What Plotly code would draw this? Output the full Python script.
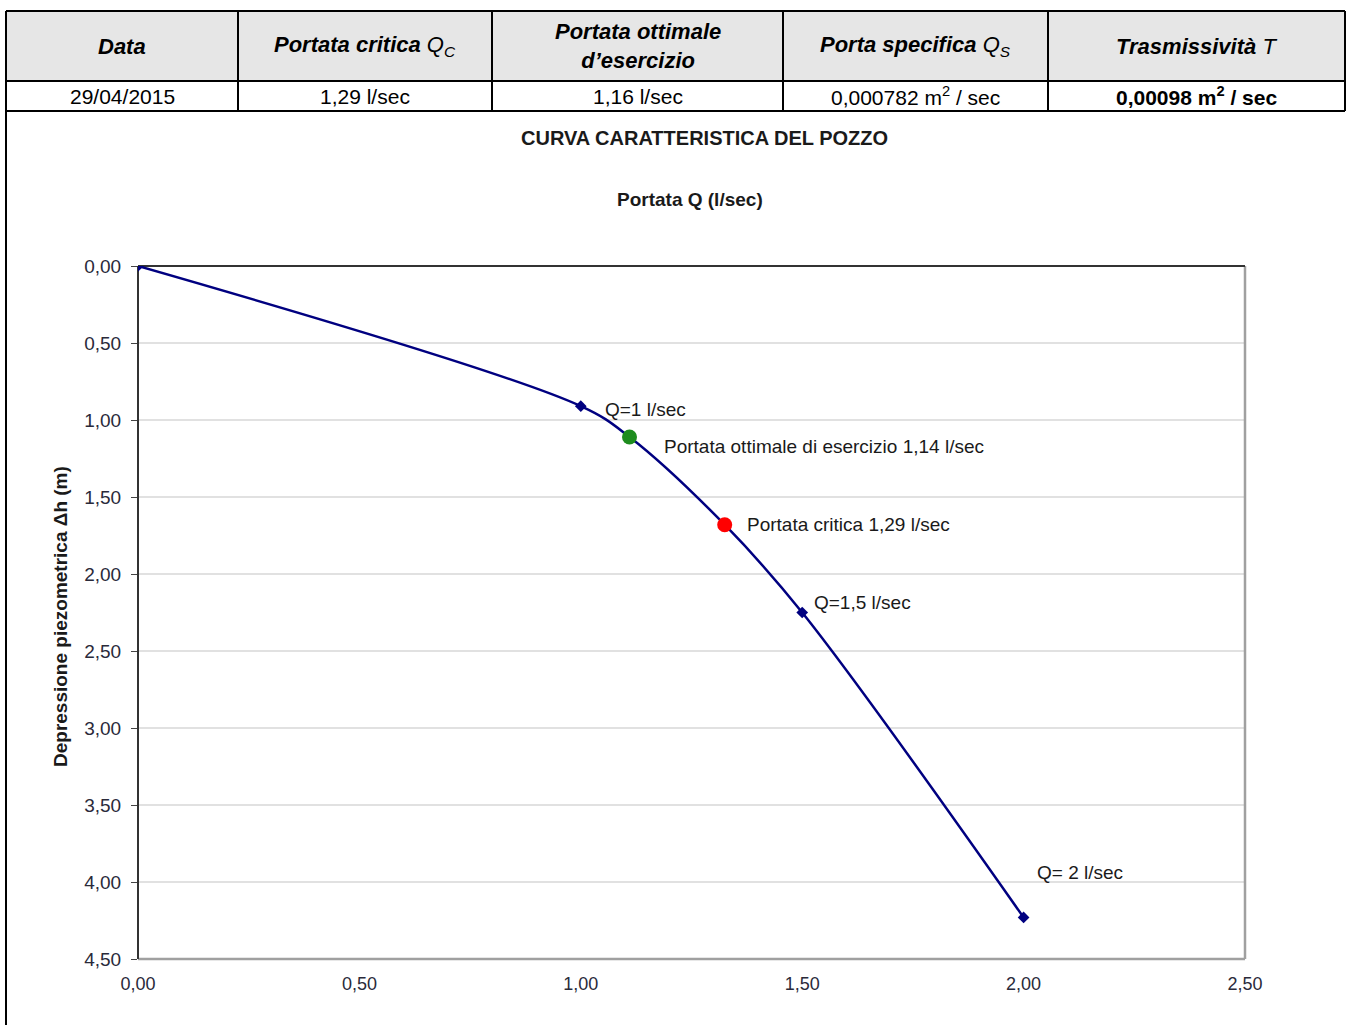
import plotly.graph_objects as go

# ---------------- data ----------------
portata = [0.0, 1.0, 1.5, 2.0]             # Q (l/sec)
depressione = [0.0, 0.91, 2.25, 4.23]      # Δh (m)
point_labels = ["", "Q=1 l/sec", "Q=1,5 l/sec", "Q= 2 l/sec"]

ottimale_q = [1.11]
ottimale_h = [1.11]
critica_q = [1.325]
critica_h = [1.68]

x_ticks = [0.0, 0.5, 1.0, 1.5, 2.0, 2.5]
y_ticks = [0.0, 0.5, 1.0, 1.5, 2.0, 2.5, 3.0, 3.5, 4.0, 4.5]

table_headers = [
    "<b><i>Data</i></b>",
    "<b><i>Portata critica</i></b> <i>Q<sub>C</sub></i>",
    "<b><i>Portata ottimale<br>d’esercizio</i></b>",
    "<b><i>Porta specifica</i></b> <i>Q<sub>S</sub></i>",
    "<b><i>Trasmissività</i></b> <i>T</i>",
]
table_values = [
    "29/04/2015",
    "1,29 l/sec",
    "1,16 l/sec",
    "0,000782 m<sup>2</sup> / sec",
    "<b>0,00098 m<sup>2</sup> / sec</b>",
]

# ---------------- layout helpers (pixel -> paper) ----------------
W, H = 1347, 1025
L, R, T, B = 138, 1245, 266, 959


def px(x):
    return (x - L) / (R - L)


def py(y):
    return (B - y) / (B - T)


FONT = "Liberation Sans, Arial, sans-serif"
NAVY = "#000080"
TXT = "#1a1a1a"

# the smooth curve passes through all read points (measured + optimal + critical)
curve_pts = sorted(zip(portata + ottimale_q + critica_q, depressione + ottimale_h + critica_h))
curve_q = [p[0] for p in curve_pts]
curve_h = [p[1] for p in curve_pts]

fig = go.Figure()

fig.add_trace(go.Scatter(
    x=curve_q, y=curve_h, mode="lines",
    line=dict(color=NAVY, width=2.5, shape="spline", smoothing=1.0),
    hoverinfo="skip", showlegend=False,
))
fig.add_trace(go.Scatter(
    x=portata, y=depressione, mode="markers",
    marker=dict(symbol="diamond", size=9, color=NAVY),
    hoverinfo="x+y", showlegend=False,
))
fig.add_trace(go.Scatter(
    x=ottimale_q, y=ottimale_h, mode="markers",
    marker=dict(symbol="circle", size=15, color="#1e8c1e"),
    showlegend=False,
))
fig.add_trace(go.Scatter(
    x=critica_q, y=critica_h, mode="markers",
    marker=dict(symbol="circle", size=15, color="#ff0000"),
    showlegend=False,
))

shapes = []
annotations = []

# ---- table ----
tx0, tx1 = 6, 1345
ty0, tyh, ty1 = 11, 81, 111
col_edges = [tx0, 238, 492, 783, 1048, tx1]

shapes.append(dict(type="rect", xref="paper", yref="paper",
                   x0=px(tx0), x1=px(tx1), y0=py(tyh), y1=py(ty0),
                   fillcolor="#e6e6e6", line=dict(width=0), layer="below"))
for yy in (ty0, tyh, ty1):
    shapes.append(dict(type="line", xref="paper", yref="paper",
                       x0=px(tx0), x1=px(tx1), y0=py(yy), y1=py(yy),
                       line=dict(color="black", width=2)))
for xx in col_edges:
    shapes.append(dict(type="line", xref="paper", yref="paper",
                       x0=px(xx), x1=px(xx), y0=py(ty0), y1=py(ty1),
                       line=dict(color="black", width=2)))
shapes.append(dict(type="line", xref="paper", yref="paper",
                   x0=px(tx0), x1=px(tx0), y0=py(ty1), y1=py(H + 5),
                   line=dict(color="black", width=2)))

for i in range(5):
    cx = (col_edges[i] + col_edges[i + 1]) / 2
    annotations.append(dict(xref="paper", yref="paper", x=px(cx), y=py((ty0 + tyh) / 2 + 0.5),
                            text=table_headers[i], showarrow=False,
                            xanchor="center", yanchor="middle",
                            font=dict(family=FONT, size=22, color="black")))
    annotations.append(dict(xref="paper", yref="paper", x=px(cx), y=py((tyh + ty1) / 2 + 0.5),
                            text=table_values[i], showarrow=False,
                            xanchor="center", yanchor="middle",
                            font=dict(family=FONT, size=21, color="black")))

# ---- plot borders and grid ----
for yv in y_ticks[1:-1]:
    shapes.append(dict(type="line", xref="paper", yref="y", x0=0, x1=1, y0=yv, y1=yv,
                       line=dict(color="#c4c4c4", width=1.2), layer="below"))
shapes.append(dict(type="line", xref="paper", yref="paper", x0=0, x1=1, y0=0, y1=0,
                   line=dict(color="#a0a0a0", width=2.5), layer="below"))
shapes.append(dict(type="line", xref="paper", yref="paper", x0=1, x1=1, y0=0, y1=1,
                   line=dict(color="#a0a0a0", width=2.5), layer="below"))
shapes.append(dict(type="line", xref="paper", yref="paper", x0=0, x1=1, y0=1, y1=1,
                   line=dict(color="#333333", width=2), layer="below"))
shapes.append(dict(type="line", xref="paper", yref="paper", x0=0, x1=0, y0=0, y1=1,
                   line=dict(color="#333333", width=2), layer="below"))

# ---- titles ----
annotations.append(dict(xref="paper", yref="paper", x=px(704), y=py(138),
                        text="<b>CURVA CARATTERISTICA DEL POZZO</b>", showarrow=False,
                        xanchor="center", yanchor="middle",
                        font=dict(family=FONT, size=20, color=TXT)))
annotations.append(dict(xref="paper", yref="paper", x=px(690), y=py(200),
                        text="<b>Portata Q (l/sec)</b>", showarrow=False,
                        xanchor="center", yanchor="middle",
                        font=dict(family=FONT, size=19, color=TXT)))
annotations.append(dict(xref="paper", yref="paper", x=px(60), y=py(617),
                        text="<b>Depressione piezometrica Δh (m)</b>", showarrow=False,
                        textangle=-90, xanchor="center", yanchor="middle",
                        font=dict(family=FONT, size=19, color=TXT)))

# ---- point labels ----
label_pos = [None, (603, 409), (812, 602), (1035, 872)]
for lab, pos in zip(point_labels, label_pos):
    if pos is None:
        continue
    annotations.append(dict(xref="paper", yref="paper", x=px(pos[0]), y=py(pos[1]),
                            text=lab, showarrow=False, xanchor="left", yanchor="middle",
                            font=dict(family=FONT, size=19, color=TXT)))
annotations.append(dict(xref="paper", yref="paper", x=px(662), y=py(446),
                        text="Portata ottimale di esercizio 1,14 l/sec", showarrow=False,
                        xanchor="left", yanchor="middle",
                        font=dict(family=FONT, size=19, color=TXT)))
annotations.append(dict(xref="paper", yref="paper", x=px(745), y=py(524),
                        text="Portata critica 1,29 l/sec", showarrow=False,
                        xanchor="left", yanchor="middle",
                        font=dict(family=FONT, size=19, color=TXT)))

fig.update_layout(
    width=W, height=H,
    margin=dict(l=L, r=W - R, t=T, b=H - B, pad=0),
    paper_bgcolor="white", plot_bgcolor="white",
    separators=",.",
    shapes=shapes, annotations=annotations,
    showlegend=False,
    xaxis=dict(range=[0, 2.5], tickvals=x_ticks, tickformat=".2f",
               showgrid=False, zeroline=False, showline=False, ticks="",
               ticklabelstandoff=12,
               tickfont=dict(family=FONT, size=18, color="#2a2a3a")),
    yaxis=dict(range=[4.5, 0], tickvals=y_ticks, tickformat=".2f",
               showgrid=False, zeroline=False, showline=False,
               ticks="outside", ticklen=6, tickcolor="#444444", tickwidth=1.2,
               ticklabelstandoff=6,
               tickfont=dict(family=FONT, size=19, color="#2a2a3a")),
)

fig.write_html("out.html", config={"displayModeBar": False},
               post_script="document.body.style.margin='0';document.body.style.overflow='hidden';")
